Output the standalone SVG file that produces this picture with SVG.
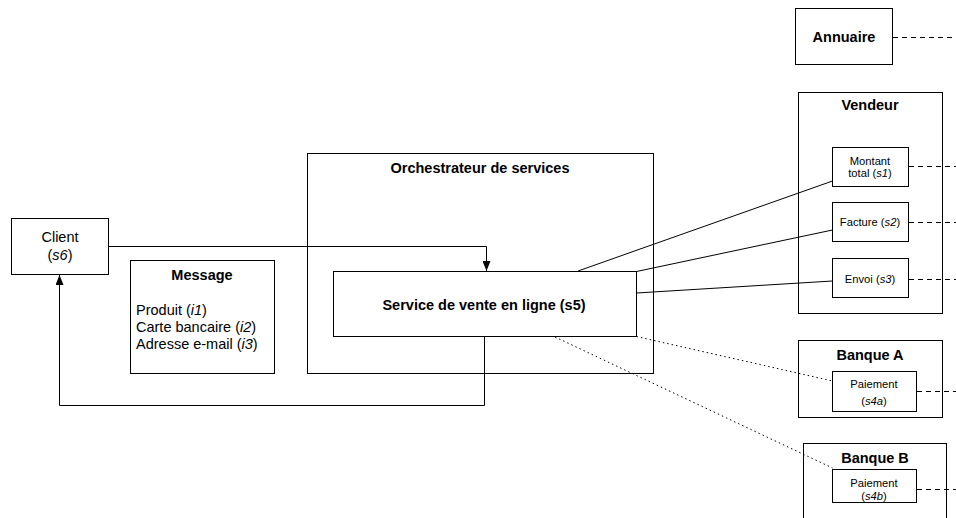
<svg xmlns="http://www.w3.org/2000/svg" width="956" height="518" viewBox="0 0 956 518">
  <style>
    .box { fill: #ffffff; stroke: #000000; stroke-width: 1; }
    .t { font-family: "Liberation Sans", Arial, sans-serif; fill: #000000; text-anchor: middle; }
    .title { font-size: 14.5px; font-weight: bold; }
    .small { font-size: 11.2px; }
    .norm { font-size: 14.5px; }
    .list { font-size: 14.5px; text-anchor: start; }
    .solid { fill: none; stroke: #000000; stroke-width: 1; }
    .dot { fill: none; stroke: #000000; stroke-width: 1; stroke-dasharray: 1.5 3; }
    .dash { fill: none; stroke: #000000; stroke-width: 1; stroke-dasharray: 5 4; }
  </style>
  <defs>
    <marker id="arrow" viewBox="0 0 10 8" refX="10" refY="4" markerWidth="10" markerHeight="8" markerUnits="userSpaceOnUse" orient="auto">
      <path d="M0,0 L10,4 L0,8 Z" fill="#000000"/>
    </marker>
  </defs>
  <rect width="956" height="518" fill="#ffffff"/>

  <g id="annuaire">
    <rect class="box" x="795.5" y="8.5" width="97" height="56"/>
    <text class="t title" x="844" y="42">Annuaire</text>
  </g>

  <g id="vendeur">
    <rect class="box" x="798.5" y="92.5" width="144" height="221"/>
    <text class="t title" x="870" y="110">Vendeur</text>
  </g>
  <g id="s1">
    <rect class="box" x="832.5" y="147.5" width="76" height="39"/>
    <text class="t small" x="870" y="165">Montant</text>
    <text class="t small" x="870" y="177">total (<tspan font-style="italic">s1</tspan>)</text>
  </g>
  <g id="s2">
    <rect class="box" x="832.5" y="202.5" width="76" height="39"/>
    <text class="t small" x="870" y="226">Facture (<tspan font-style="italic">s2</tspan>)</text>
  </g>
  <g id="s3">
    <rect class="box" x="832.5" y="258.5" width="76" height="39"/>
    <text class="t small" x="870" y="283">Envoi (<tspan font-style="italic">s3</tspan>)</text>
  </g>

  <g id="banque-a">
    <rect class="box" x="798.5" y="340.5" width="144" height="77"/>
    <text class="t title" x="870" y="360">Banque A</text>
  </g>
  <g id="s4a">
    <rect class="box" x="832.5" y="371.5" width="84" height="40"/>
    <text class="t small" x="874" y="388">Paiement</text>
    <text class="t small" x="874" y="405">(<tspan font-style="italic">s4a</tspan>)</text>
  </g>

  <g id="banque-b">
    <rect class="box" x="803.5" y="443.5" width="143" height="90"/>
    <text class="t title" x="875" y="463">Banque B</text>
  </g>
  <g id="s4b">
    <rect class="box" x="832.5" y="469.5" width="84" height="33"/>
    <text class="t small" x="874" y="487">Paiement</text>
    <text class="t small" x="874" y="499.5">(<tspan font-style="italic">s4b</tspan>)</text>
  </g>

  <g id="client">
    <rect class="box" x="11.5" y="218.5" width="97" height="56"/>
    <text class="t norm" x="60" y="242">Client</text>
    <text class="t norm" x="60" y="260">(<tspan font-style="italic">s6</tspan>)</text>
  </g>

  <g id="message">
    <rect class="box" x="130.5" y="260.5" width="144" height="113"/>
    <text class="t title" x="202" y="280">Message</text>
    <text class="t list" x="136" y="315">Produit (<tspan font-style="italic">i1</tspan>)</text>
    <text class="t list" x="136" y="332">Carte bancaire (<tspan font-style="italic">i2</tspan>)</text>
    <text class="t list" x="136" y="349">Adresse e-mail (<tspan font-style="italic">i3</tspan>)</text>
  </g>

  <g id="orchestrateur">
    <rect class="box" x="307.5" y="153.5" width="346" height="220"/>
    <text class="t title" x="480" y="173">Orchestrateur de services</text>
  </g>

  <g id="s5">
    <rect class="box" x="333.5" y="271.5" width="303" height="65"/>
    <text class="t title" x="484" y="310">Service de vente en ligne (s5)</text>
  </g>

  <g id="connectors">
    <!-- client to online sales service -->
    <path class="solid" d="M108.5,246.5 H486.5 V271" marker-end="url(#arrow)"/>
    <!-- online sales service back to client -->
    <path class="solid" d="M484.5,337 V405.5 H59.5 V275" marker-end="url(#arrow)"/>
    <!-- service calls to vendor -->
    <path class="solid" d="M578,271 L832.5,181"/>
    <path class="solid" d="M636.5,271.5 L832.5,230"/>
    <path class="solid" d="M636.5,293 L832.5,281"/>
    <!-- payment calls to banks -->
    <path class="dot" d="M636.5,336.5 L832.5,381"/>
    <path class="dot" d="M555,337 L832.5,468"/>
    <!-- registry links -->
    <path class="dash" d="M893,37.5 H956"/>
    <path class="dash" d="M909,166.5 H956"/>
    <path class="dash" d="M909,222.5 H956"/>
    <path class="dash" d="M909,279.5 H956"/>
    <path class="dash" d="M917,391.5 H956"/>
    <path class="dash" d="M917,489.5 H956"/>
  </g>
</svg>
